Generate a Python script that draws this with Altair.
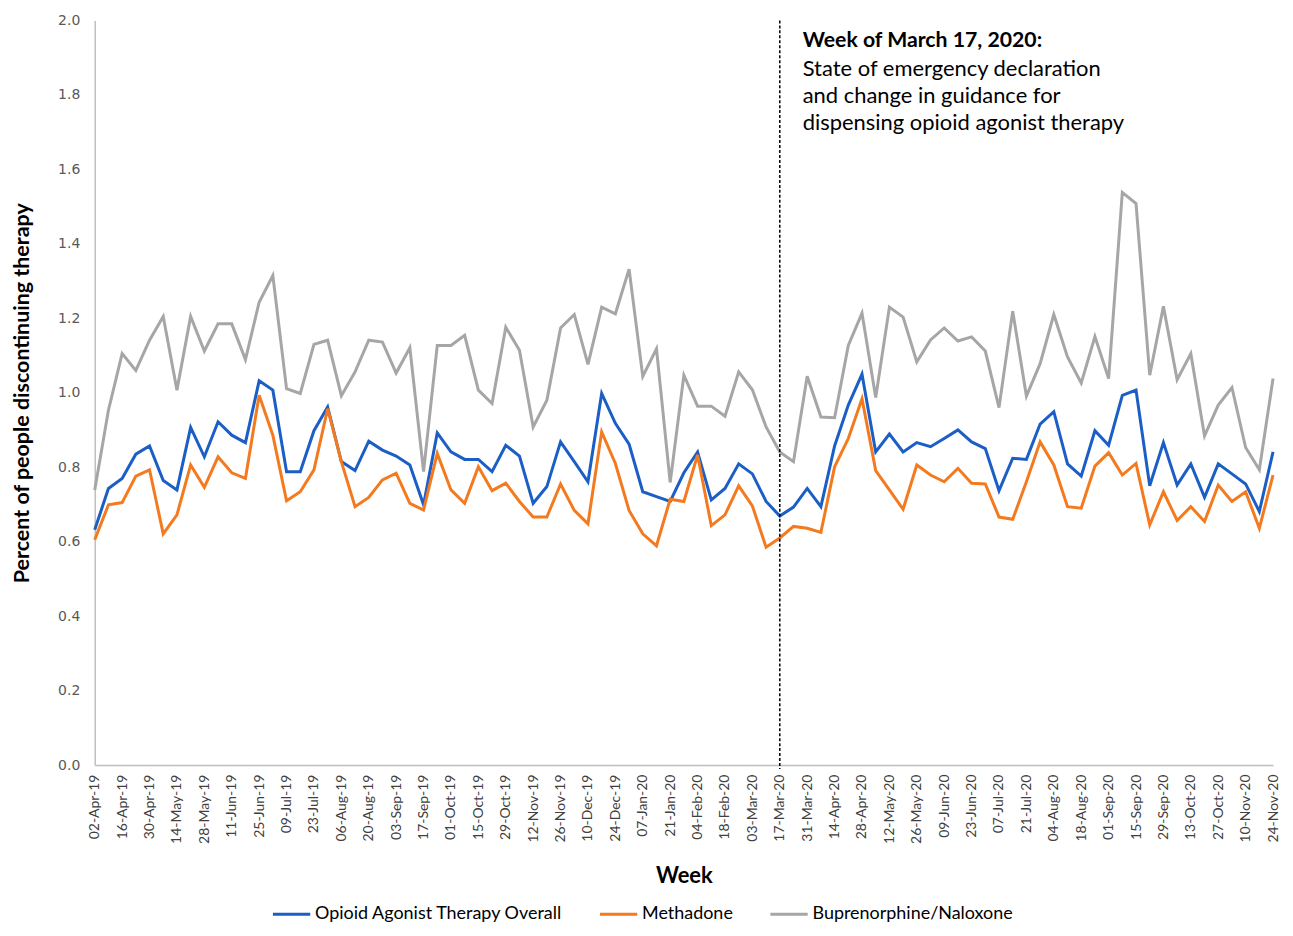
import altair as alt
import pandas as pd

weeks = [d.strftime('%d-%b-%y') for d in pd.date_range('2019-04-02', periods=87, freq='7D')]

overall = [0.632, 0.743, 0.770, 0.835, 0.857, 0.764, 0.739, 0.907, 0.828, 0.922,
           0.886, 0.866, 1.032, 1.007, 0.788, 0.788, 0.898, 0.962, 0.815, 0.791,
           0.870, 0.846, 0.830, 0.806, 0.699, 0.892, 0.841, 0.821, 0.821, 0.788,
           0.859, 0.830, 0.703, 0.748, 0.868, 0.815, 0.761, 0.998, 0.918, 0.862,
           0.734, 0.721, 0.708, 0.785, 0.841, 0.712, 0.743, 0.809, 0.782, 0.708,
           0.669, 0.693, 0.743, 0.694, 0.857, 0.967, 1.050, 0.841, 0.889, 0.841,
           0.866, 0.855, 0.877, 0.900, 0.868, 0.850, 0.737, 0.824, 0.821, 0.916,
           0.949, 0.809, 0.776, 0.898, 0.859, 0.993, 1.007, 0.750, 0.866, 0.752,
           0.809, 0.719, 0.809, 0.782, 0.755, 0.681, 0.841]

methadone = [0.605, 0.699, 0.705, 0.776, 0.793, 0.621, 0.672, 0.806, 0.746, 0.828,
             0.785, 0.770, 0.993, 0.886, 0.710, 0.734, 0.793, 0.957, 0.815, 0.694,
             0.719, 0.766, 0.784, 0.703, 0.685, 0.837, 0.739, 0.703, 0.801, 0.737,
             0.757, 0.708, 0.666, 0.666, 0.755, 0.684, 0.648, 0.895, 0.810, 0.684,
             0.621, 0.589, 0.714, 0.708, 0.833, 0.643, 0.672, 0.750, 0.696, 0.585,
             0.610, 0.641, 0.636, 0.625, 0.801, 0.877, 0.984, 0.791, 0.739, 0.687,
             0.806, 0.779, 0.761, 0.797, 0.757, 0.755, 0.666, 0.660, 0.761, 0.868,
             0.806, 0.694, 0.690, 0.803, 0.839, 0.779, 0.810, 0.645, 0.734, 0.657,
             0.694, 0.654, 0.752, 0.708, 0.734, 0.636, 0.779]

bup_nal = [0.739, 0.953, 1.105, 1.060, 1.141, 1.205, 1.007, 1.205, 1.112, 1.185,
           1.185, 1.089, 1.243, 1.315, 1.011, 0.998, 1.130, 1.141, 0.992, 1.056,
           1.141, 1.136, 1.053, 1.121, 0.788, 1.127, 1.127, 1.154, 1.007, 0.971,
           1.176, 1.114, 0.908, 0.980, 1.174, 1.210, 1.076, 1.230, 1.212, 1.332,
           1.044, 1.118, 0.759, 1.047, 0.964, 0.964, 0.937, 1.056, 1.008, 0.908,
           0.841, 0.815, 1.044, 0.935, 0.933, 1.127, 1.214, 0.987, 1.230, 1.203,
           1.083, 1.142, 1.174, 1.139, 1.150, 1.112, 0.960, 1.219, 0.991, 1.078,
           1.210, 1.096, 1.026, 1.151, 1.038, 1.538, 1.508, 1.047, 1.232, 1.035,
           1.105, 0.884, 0.967, 1.014, 0.853, 0.793, 1.038]

series_names = ["Opioid Agonist Therapy Overall", "Methadone", "Buprenorphine/Naloxone"]
series_colors = ["#1b5ec6", "#f47a1f", "#a6a6a6"]
y_ticks = [0.0, 0.2, 0.4, 0.6, 0.8, 1.0, 1.2, 1.4, 1.6, 1.8, 2.0]
event_week = "17-Mar-20"
note_title = "Week of March 17, 2020:"
note_lines = ["State of emergency declaration",
              "and change in guidance for",
              "dispensing opioid agonist therapy"]

rows = []
for name, vals in zip(series_names, [overall, methadone, bup_nal]):
    for w, v in zip(weeks, vals):
        rows.append({"week": w, "value": v, "series": name})
df = pd.DataFrame(rows)

W, H = 1182, 747

x_enc = alt.X("week:O", sort=weeks,
              scale=alt.Scale(type="point", padding=0),
              axis=alt.Axis(values=weeks[::2], labelAngle=-90, title="Week",
                            labelFont="Lato", labelFontSize=14, labelColor="#404040",
                            labelPadding=9, ticks=False, domainColor="#bfbfbf",
                            domainWidth=1.5,
                            titleFont="Lato", titleFontSize=22, titleFontWeight="bold",
                            titleColor="#000000", titlePadding=22))

lines = alt.Chart(df).mark_line(strokeWidth=3).encode(
    x=x_enc,
    y=alt.Y("value:Q", scale=alt.Scale(domain=[0, 2]),
            axis=alt.Axis(values=y_ticks, format=".1f", grid=False, ticks=False,
                          labelFont="DejaVu Sans", labelFontSize=14, labelColor="#595959",
                          labelPadding=15, domainColor="#bfbfbf", domainWidth=1.5,
                          title="Percent of people discontinuing therapy",
                          titleFont="Lato", titleFontSize=21.5, titleFontWeight="bold",
                          titleColor="#000000", titlePadding=24)),
    color=alt.Color("series:N", sort=series_names,
                    scale=alt.Scale(domain=series_names, range=series_colors),
                    legend=alt.Legend(title=None, orient="none", direction="horizontal",
                                      legendX=177, legendY=876,
                                      symbolType="stroke", symbolStrokeWidth=3,
                                      symbolSize=1400, labelFont="Lato",
                                      labelFontSize=18, labelColor="#000000",
                                      labelLimit=0, columnPadding=30, labelOffset=3)),
)

ev = pd.DataFrame({"week": [event_week]})
rule = alt.Chart(ev).mark_rule(color="#000000", strokeWidth=1.5, strokeDash=[3, 2]).encode(
    x=alt.X("week:O", sort=weeks),
    y=alt.value(0), y2=alt.value(H + 4))

t1 = alt.Chart(pd.DataFrame({"week": [event_week], "t": [note_title]})).mark_text(
    align="left", baseline="middle", dx=23, font="Lato", fontSize=21.3,
    fontWeight="bold", color="#000000").encode(
    x=alt.X("week:O", sort=weeks), y=alt.value(21), text="t:N")

t2 = alt.Chart(pd.DataFrame({"week": [event_week], "t": [note_lines]})).mark_text(
    align="left", baseline="middle", dx=23, font="Lato", fontSize=22,
    lineHeight=27, color="#000000").encode(
    x=alt.X("week:O", sort=weeks), y=alt.value(49), text="t")

chart = alt.layer(lines, rule, t1, t2).properties(
    width=W, height=H,
    autosize=alt.AutoSizeParams(type="none"),
    padding={"left": 87, "top": 11, "right": 12, "bottom": 162},
).configure_view(stroke=None)

chart.save("out.html", embed_options={"renderer": "svg", "actions": False})
